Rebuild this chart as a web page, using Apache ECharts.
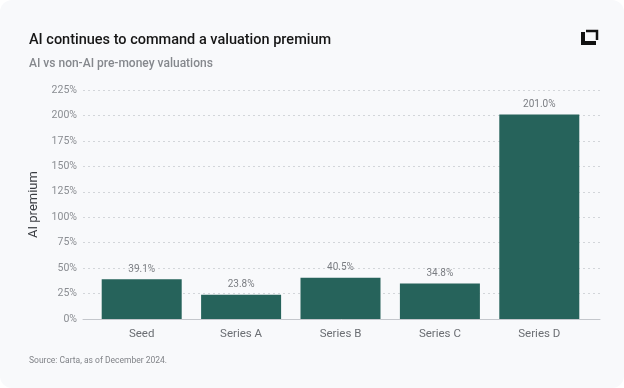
<!DOCTYPE html>
<html><head><meta charset="utf-8">
<script src="https://cdn.jsdelivr.net/npm/echarts@6/dist/echarts.min.js"></script>
<style>
html,body{margin:0;padding:0;background:#fff;}
#card{position:absolute;left:0;top:0;width:624px;height:388px;background:#f8f9fb;border-radius:12px;overflow:hidden;}
#chart{width:624px;height:388px;}
</style></head>
<body><div id="card"><div id="chart"></div></div>
<script>
const categories = ['Seed', 'Series A', 'Series B', 'Series C', 'Series D'];
const premium = [39.1, 23.8, 40.5, 34.8, 201.0];
const yTicks = [0, 25, 50, 75, 100, 125, 150, 175, 200, 225];

const chart = echarts.init(document.getElementById('chart'));
const font = 'Roboto, Inter, sans-serif';
chart.setOption({
  backgroundColor: 'transparent',
  textStyle: {fontFamily: font},
  title: [
    {text: 'AI continues to command a valuation premium', left: 24, top: 28,
     textStyle: {fontFamily: font, fontSize: 14.5, fontWeight: 500, color: '#161616'}},
    {text: 'AI vs non-AI pre-money valuations', left: 24, top: 53,
     textStyle: {fontFamily: font, fontSize: 12, fontWeight: 500, color: '#85888d'}},
    {text: 'Source: Carta, as of December 2024.', left: 24, top: 351,
     textStyle: {fontFamily: font, fontSize: 8.5, fontWeight: 400, color: '#808388'}}
  ],
  grid: [
    {left: 83, right: 24, top: 90, bottom: 69},
    {left: 92, right: 35, top: 90, bottom: 69}
  ],
  xAxis: [
    {type: 'category', gridIndex: 0, data: [''], axisLine: {show: true, lineStyle: {color: '#c4c7cc', width: 1}},
     axisTick: {show: false}, axisLabel: {show: false}},
    {type: 'category', gridIndex: 1, data: categories, axisLine: {show: false}, axisTick: {show: false},
     axisLabel: {color: '#6b6e73', fontSize: 11.5, margin: 9, fontFamily: font}}
  ],
  yAxis: [
    {type: 'value', gridIndex: 0, min: yTicks[0], max: yTicks[yTicks.length-1], interval: 25,
     name: 'AI premium', nameLocation: 'middle', nameGap: 42,
     nameTextStyle: {color: '#3a3d42', fontSize: 13, fontFamily: font},
     axisLine: {show: false}, axisTick: {show: false},
     axisLabel: {color: '#8a8d92', fontSize: 10.5, margin: 6, formatter: v => v + '%', fontFamily: font},
     splitLine: {show: true, lineStyle: {color: '#d3d6da', type: [2, 3], width: 1}}},
    {type: 'value', gridIndex: 1, min: yTicks[0], max: yTicks[yTicks.length-1], interval: 25,
     show: false, splitLine: {show: false}}
  ],
  series: [{
    type: 'bar', xAxisIndex: 1, yAxisIndex: 1, data: premium, barWidth: 80,
    itemStyle: {color: '#26635b'},
    label: {show: true, position: 'top', distance: 5, color: '#7a7d82', fontSize: 10, fontFamily: font,
            formatter: p => p.value.toFixed(1) + '%'}
  }],
  graphic: [
    {type: 'polyline', shape: {points: [[583, 32], [583, 43], [596, 43]]},
     style: {stroke: '#111', lineWidth: 4, fill: null}},
    {type: 'polyline', shape: {points: [[586, 31], [597, 31], [597, 40]]},
     style: {stroke: '#111', lineWidth: 2.5, fill: null}}
  ]
});
</script></body></html>
